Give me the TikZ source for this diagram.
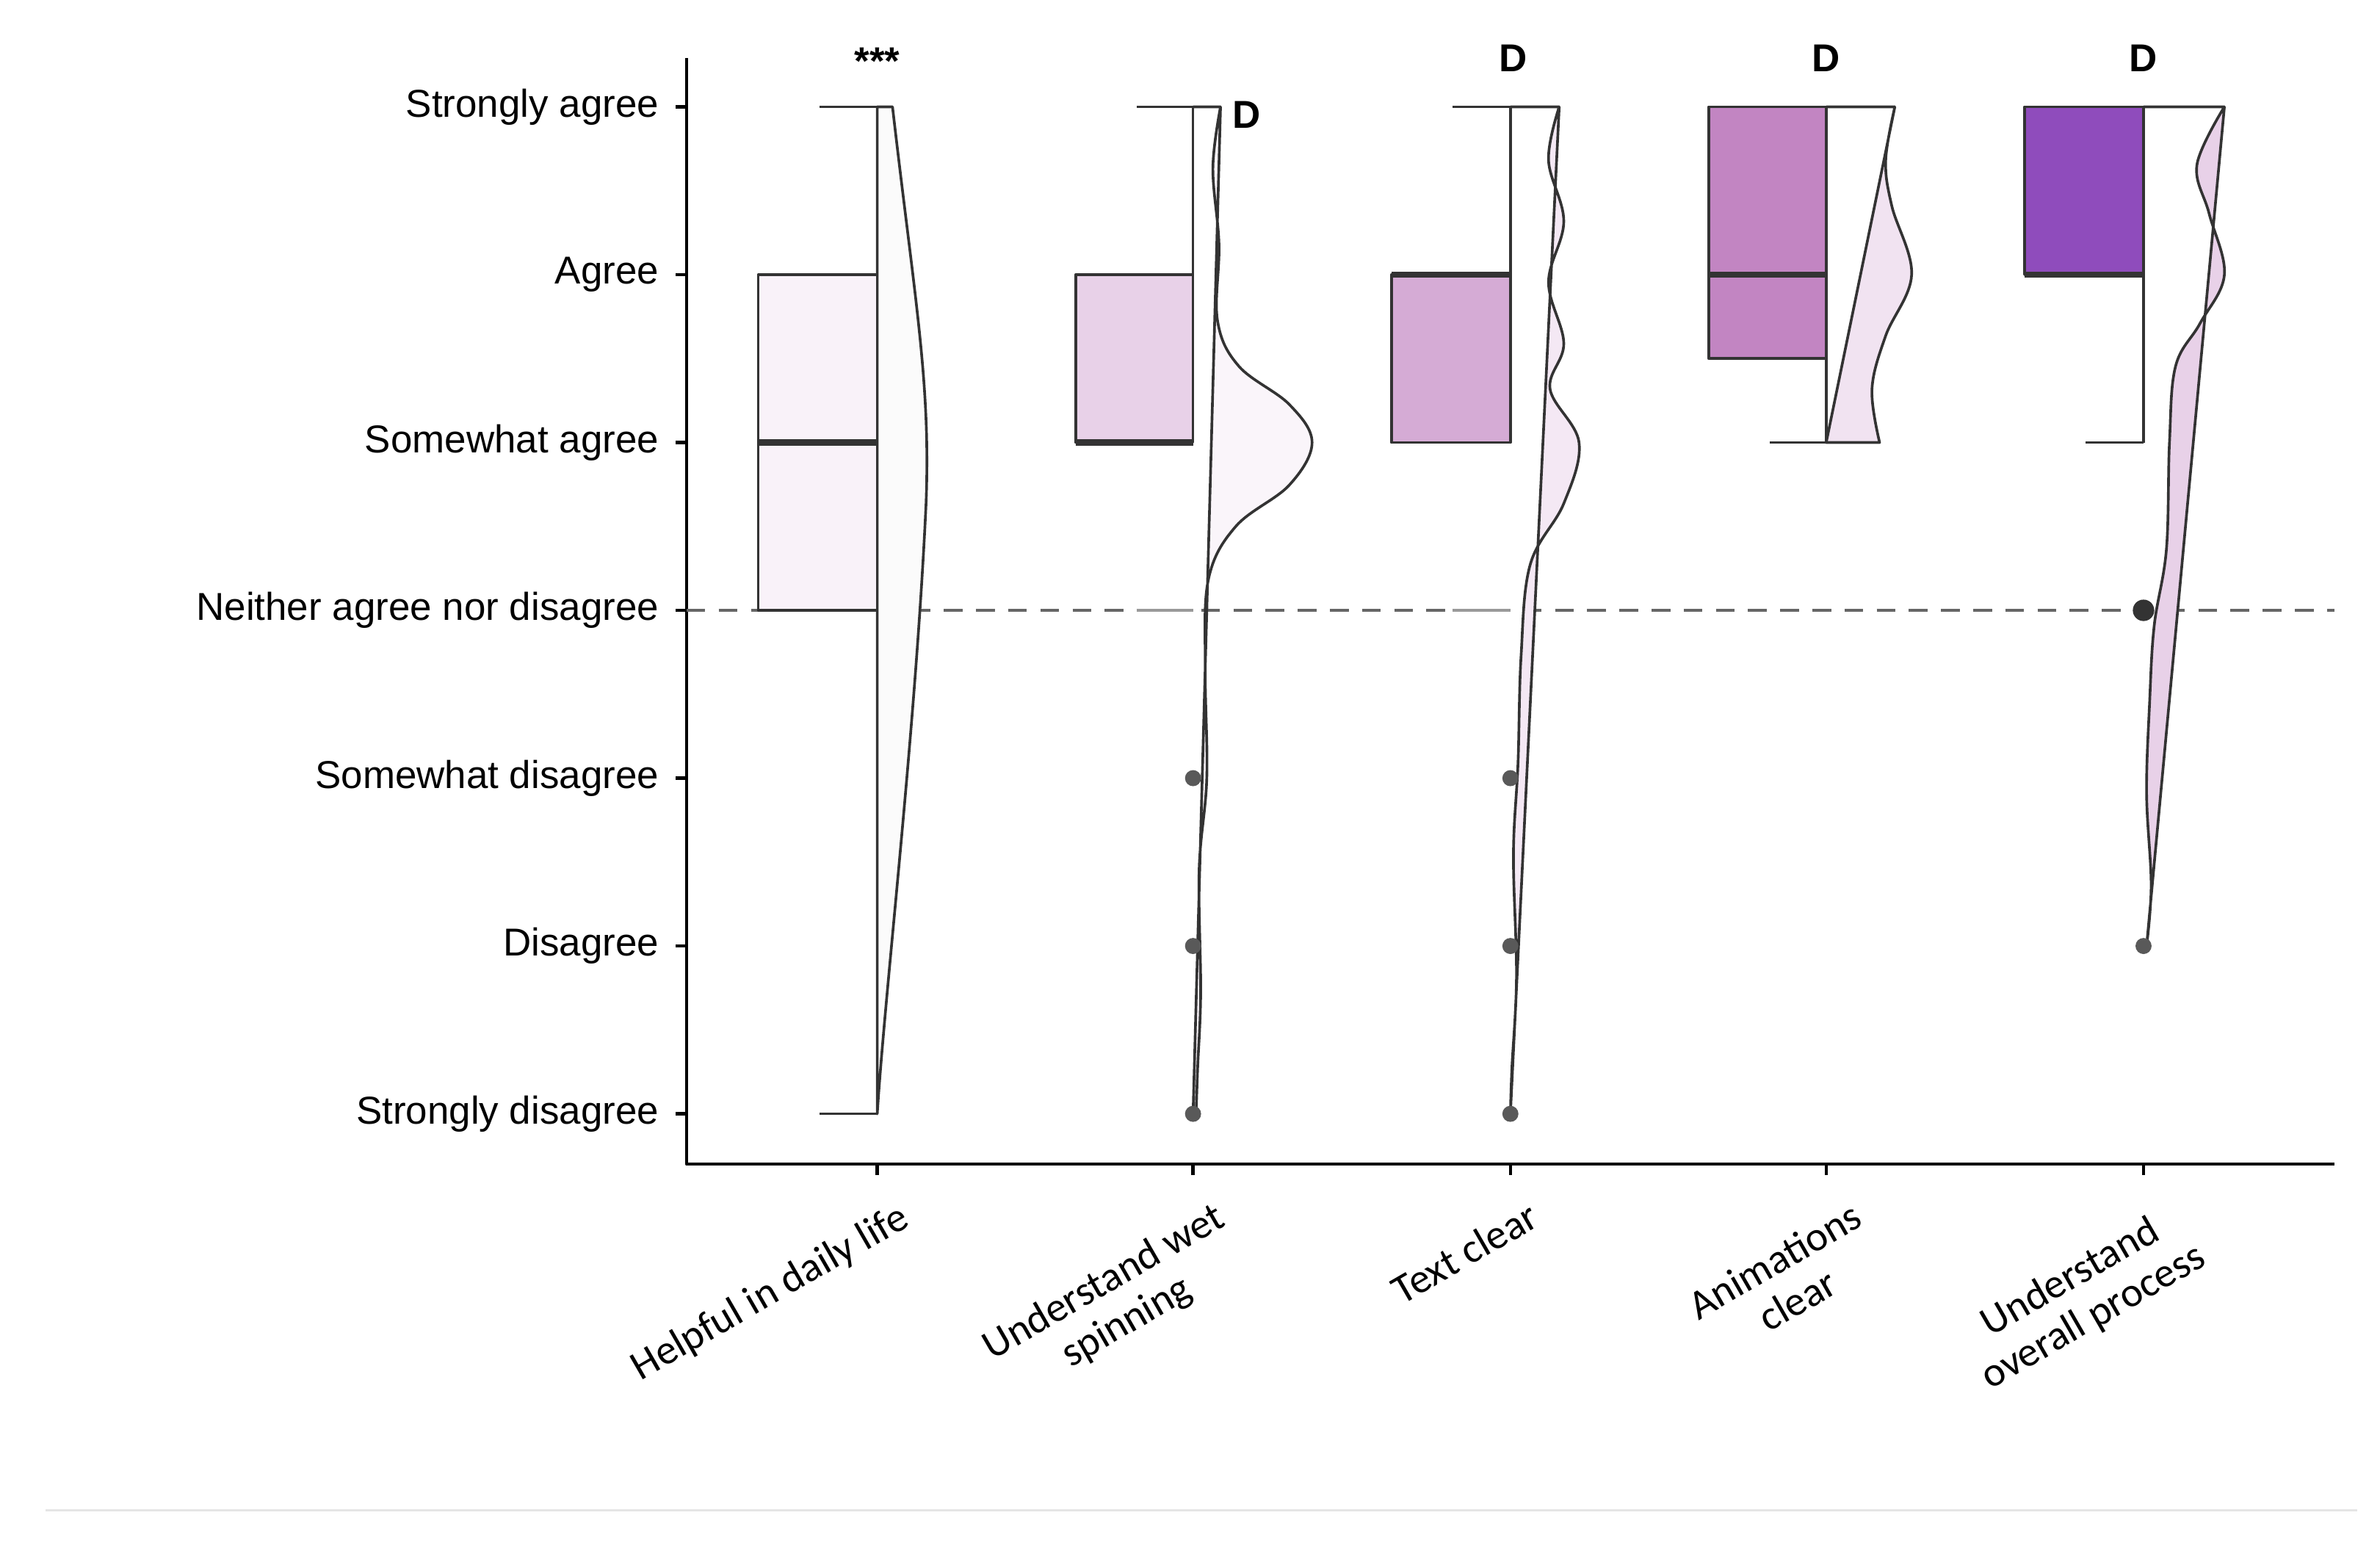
\documentclass[tikz,border=0pt]{standalone}
\usepackage{fontspec}
\setmainfont{Liberation Sans}
\newfontfamily\carlitofont{Carlito}
\begin{document}
\begin{tikzpicture}[x=0.02cm,y=-0.02cm,line join=round,
  ax/.style={line width=1.2pt,black},
  bx/.style={draw=black!80,line width=1pt},
  med/.style={black!80,line width=2.2pt},
  odot/.style={circle,fill=black!65,inner sep=0pt,minimum size=6pt},
  ylab/.style={anchor=east,font=\fontsize{14.5}{17}\selectfont},
  xlab/.style={anchor=north east,rotate=30,font=\carlitofont\fontsize{15.5}{17}\selectfont,align=center},
  sig/.style={font=\bfseries\fontsize{14.5}{17}\selectfont}]
\useasboundingbox (0,0) rectangle (1560,1011);
\fill[white] (0,0) rectangle (1560,1011);
\draw[black!10,line width=0.8pt] (30,990) -- (1545,990);
% axes
\draw[ax] (450,38) -- (450,763) -- (1530,763);
\foreach \y/\t in {70/Strongly agree,180/Agree,290/Somewhat agree,400/Neither agree nor disagree,510/Somewhat disagree,620/Disagree,730/Strongly disagree}{
  \draw[ax] (443,\y) -- (450,\y);
  \node[ylab] at (438,\y) {\t};}
\foreach \x in {575,782,990,1197,1405}{\draw[ax] (\x,763) -- (\x,770);}
\node[xlab] at (590,778) {Helpful in daily life};
\node[xlab] at (797,778) {Understand wet\\spinning};
\node[xlab] at (1003,778) {Text clear};
\node[xlab] at (1215,778) {Animations\\clear};
\node[xlab] at (1425,778) {Understand\\overall process};
% dashed line
\draw[black!60,line width=1.2pt,dash pattern=on 7pt off 5pt] (450,400) -- (1530,400);
% 1
\draw[bx,fill=black!1.5] (575,70) -- (585,70) .. controls (600,200) and (610,250) .. (607,330) .. controls (600,480) and (580,650) .. (575,730) -- cycle;
\draw[bx,fill=violet!5] (497,180) rectangle (575,400);
\draw[med] (497,290) -- (575,290);
\draw[bx] (575,70) -- (575,180) (575,400) -- (575,730) (537,70) -- (575,70) (537,730) -- (575,730);
% 2
\draw[bx,fill=violet!4] (782,70) -- (800,70) plot[smooth,tension=0.6] coordinates {(800,70) (795,110) (799,160) (798,210) (812,240) (845,265) (860,290) (845,318) (810,345) (792,380) (790,440) (791,510) (786,570) (787,650) (785,700) (784,730)} -- (782,730) -- cycle;
\draw[bx,fill=violet!18] (705,180) rectangle (782,290);
\draw[med] (705,290) -- (782,290);
\draw[bx] (782,70) -- (782,180) (745,70) -- (782,70);
\draw[black!40,line width=1pt] (745,400) -- (782,400);
\foreach \y in {510,620,730}{\node[odot] at (782,\y) {};}
% 3
\draw[bx,fill=violet!9] (990,70) -- (1022,70) plot[smooth,tension=0.6] coordinates {(1022,70) (1015,105) (1025,145) (1015,185) (1025,225) (1016,255) (1035,290) (1025,330) (1003,370) (997,430) (995,500) (992,560) (994,640) (991,700) (990,730)} -- cycle;
\draw[bx,fill=violet!33] (912,180) rectangle (990,290);
\draw[med] (912,180) -- (990,180);
\draw[bx] (990,70) -- (990,180) (952,70) -- (990,70);
\draw[black!40,line width=1pt] (952,400) -- (990,400);
\foreach \y in {510,620,730}{\node[odot] at (990,\y) {};}
% 4
\draw[bx,fill=violet!11] (1197,70) -- (1242,70) plot[smooth,tension=0.6] coordinates {(1242,70) (1236,105) (1240,135) (1253,180) (1236,220) (1227,255) (1232,290)} -- (1197,290) -- cycle;
\draw[bx,fill=violet!48] (1120,70) rectangle (1197,235);
\draw[med] (1120,180) -- (1197,180);
\draw[bx] (1197,235) -- (1197,290) (1160,290) -- (1197,290);
% 5
\draw[bx,fill=violet!18] (1405,70) -- (1458,70) plot[smooth,tension=0.6] coordinates {(1458,70) (1440,108) (1448,140) (1458,180) (1442,212) (1426,240) (1422,290) (1420,360) (1412,410) (1409,460) (1407,520) (1410,580) (1407,620)} -- cycle;
\draw[bx,fill=violet!75!blue!70!white] (1327,70) rectangle (1405,180);
\draw[med] (1327,180) -- (1405,180);
\draw[bx] (1405,180) -- (1405,290) (1367,290) -- (1405,290);
\node[odot,fill=black!80,minimum size=8pt] at (1405,400) {};
\node[odot] at (1405,620) {};
% significance
\node[sig] at (575,40) {***};
\node[sig] at (817,75) {D};
\node[sig] at (992,38) {D};
\node[sig] at (1197,38) {D};
\node[sig] at (1405,38) {D};
\end{tikzpicture}
\end{document}
